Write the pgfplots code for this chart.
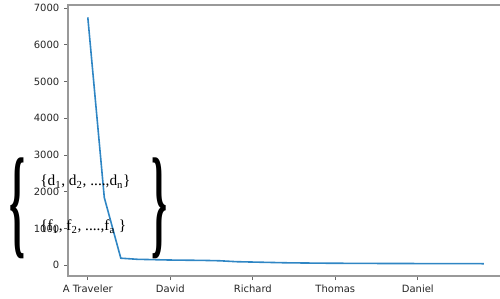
\documentclass[border=0pt]{standalone}
\usepackage{fontspec}
\setmainfont{Liberation Serif}
\newfontfamily\dejavu{DejaVu Sans}
\usepackage{pgfplots}
\pgfplotsset{compat=1.18}
\definecolor{mplblue}{HTML}{2F86C4}
\begin{document}
\begin{tikzpicture}
\useasboundingbox (0,0) rectangle (375pt,223.5pt);
\begin{axis}[
  at={(51pt,16.5pt)}, anchor=south west,
  scale only axis, width=326.7pt, height=203.25pt,
  xmin=-1.2, xmax=25.2, ymin=-295, ymax=7085,
  xtick={0,5,10,15,20},
  xticklabels={A Traveler, David, Richard, Thomas, Daniel},
  ytick={0,1000,...,7000},
  scaled y ticks=false,
  /pgf/number format/1000 sep={},
  /pgf/number format/assume math mode=true,
  tick align=outside, tick pos=left,
  major tick length=3pt,
  axis line style={black!40, line width=0.9pt},
  tick style={black!60, line width=0.6pt},
  ticklabel style={font=\dejavu\fontsize{7.5}{8.5}\selectfont, text=black!85},
]
\addplot[mplblue, line width=1.2pt] coordinates {
(0,6750) (1,1840) (2,190) (3,160) (4,150) (5,140) (6,135) (7,130) (8,120)
(9,95) (10,85) (11,75) (12,65) (13,60) (14,55) (15,52) (16,50) (17,48)
(18,46) (19,45) (20,44) (21,43) (22,42) (23,41) (24,40)};
\end{axis}
\node at (13.3pt,67.5pt) {\resizebox{12pt}{63.5pt}{\bfseries\{}};
\node at (119.6pt,67.5pt) {\resizebox{12pt}{63.5pt}{\bfseries\}}};
\node[anchor=base west, inner sep=0pt, font=\fontsize{11.5}{13}\selectfont] at (30pt,84.2pt)
  {\{d\textsubscript{1}, d\textsubscript{2}, ....,d\textsubscript{n}\}};
\node[anchor=base west, inner sep=0pt, font=\fontsize{11.5}{13}\selectfont] at (30pt,50.5pt)
  {\{f\textsubscript{1}, f\textsubscript{2}, ....,f\textsubscript{a} \}};
\end{tikzpicture}
\end{document}
